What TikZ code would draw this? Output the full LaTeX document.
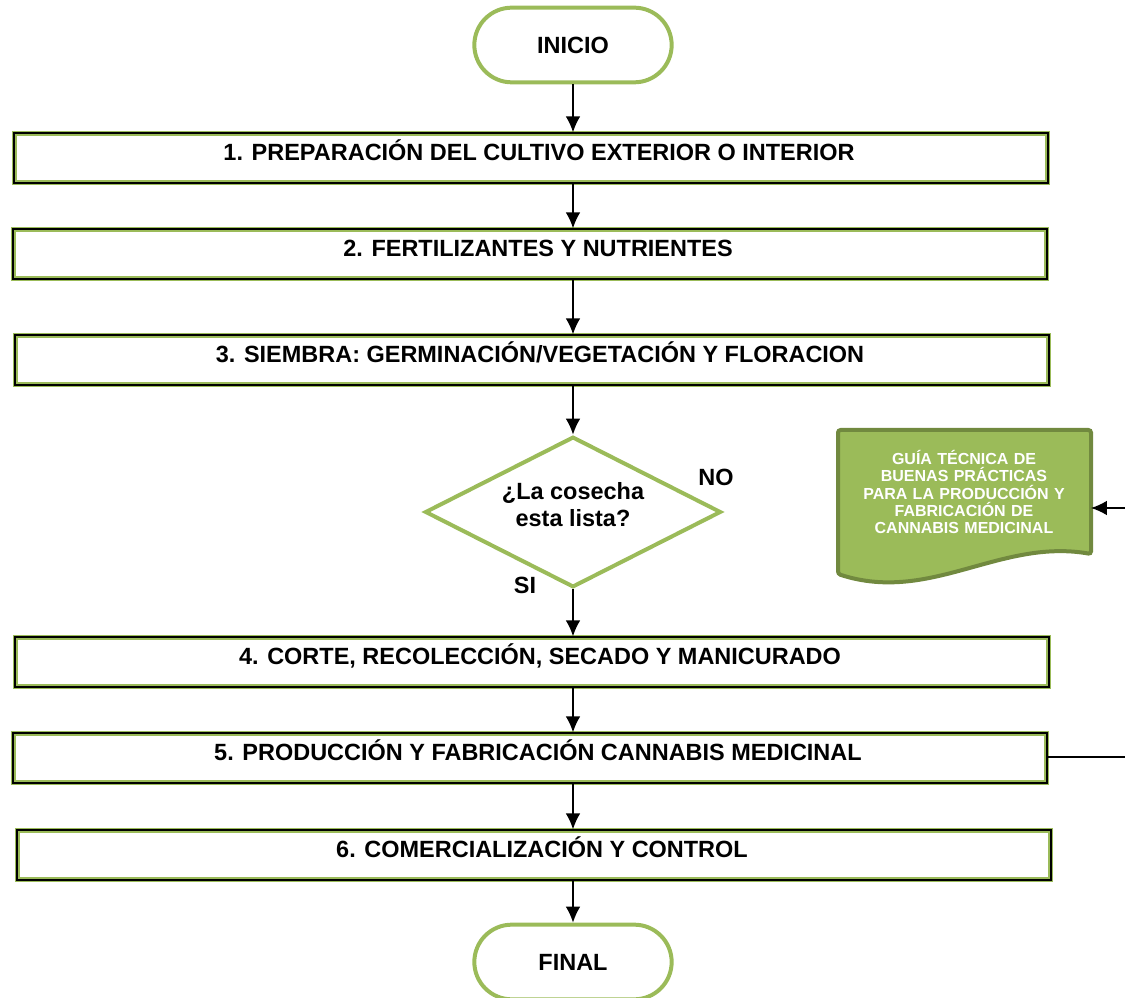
\documentclass[tikz,border=0pt]{standalone}
\usepackage{fontspec}
\setmainfont{Liberation Sans}
\usetikzlibrary{shapes.geometric, arrows.meta, calc, positioning}
\definecolor{verde}{HTML}{9BBB59}
\definecolor{verdeosc}{HTML}{71893F}
\tikzset{
    flecha/.style={-{Latex[length=12pt,width=11pt]}, line width=1.2pt},
    paso/.style={rectangle, draw=black, line width=1.4pt, preaction={draw=verde, line width=3.6pt},
        minimum width=775pt, minimum height=37pt, text height=12pt, text depth=8pt,
        execute at begin node={\hspace*{12pt}},
        font=\bfseries\fontsize{17.6}{20}\selectfont},
    term/.style={rectangle, rounded corners=28pt, draw=verde, line width=3pt,
        minimum width=148pt, minimum height=56pt, font=\bfseries\fontsize{17.6}{20}\selectfont},
    decision/.style={diamond, draw=verde, line width=3pt, shape aspect=2, inner sep=0pt,
        minimum width=222pt, minimum height=113pt, align=center, text depth=12pt,
        font=\bfseries\fontsize{17.6}{20.25}\selectfont},
    guia/.style={text=white, align=center, inner sep=0pt, minimum width=190pt, text width=180pt,
        font=\bfseries\fontsize{12}{13.1}\selectfont},
    rotulo/.style={font=\bfseries\fontsize{17.6}{20}\selectfont}
}
\begin{document}
\begin{tikzpicture}[x=0.75pt, y=-0.75pt]
  \useasboundingbox (0,0) rectangle (1125,998);

  % inicio y pasos
  \node[term] (inicio) at (573,45) {INICIO};
  \node[paso] (p1) at (531,158) {1. PREPARACIÓN DEL CULTIVO EXTERIOR O INTERIOR};
  \node[paso] (p2) at (530,254) {2. FERTILIZANTES Y NUTRIENTES};
  \node[paso] (p3) at (532,360) {3. SIEMBRA: GERMINACIÓN/VEGETACIÓN Y FLORACION};
  \node[decision] (dec) at (573,512) {¿La cosecha\\esta lista?};
  \node[paso] (p4) at (532,662) {4. CORTE, RECOLECCIÓN, SECADO Y MANICURADO};
  \node[paso] (p5) at (530,758) {5. PRODUCCIÓN Y FABRICACIÓN CANNABIS MEDICINAL};
  \node[paso] (p6) at (534,855) {6. COMERCIALIZACIÓN Y CONTROL};
  \node[term] (final) at (573,962) {FINAL};

  \node[rotulo] (no) at (716,477) {NO};
  \node[rotulo] (si) at (525,585) {SI};

  % documento guia
  \fill[verde, draw=verdeosc, line width=3pt, rounded corners=2pt]
    (838,430) -- (1091,430) -- (1091,554)
    .. controls (1000,538) and (930,604) .. (838,574) -- cycle;
  \node[guia] (guia) at (964,492) {GUÍA TÉCNICA DE\\BUENAS PRÁCTICAS\\PARA LA PRODUCCIÓN Y\\FABRICACIÓN DE\\CANNABIS MEDICINAL};

  \coordinate (salida) at (1125,757);
  \coordinate (entrada) at (1125,508);

  % conectores
  \draw[flecha] (inicio.south) -- (inicio.south |- p1.north);
  \draw[flecha] (inicio.south |- p1.south) -- (inicio.south |- p2.north);
  \draw[flecha] (inicio.south |- p2.south) -- (inicio.south |- p3.north);
  \draw[flecha] (inicio.south |- p3.south) -- (dec.north);
  \draw[flecha] (dec.south) -- (dec.south |- p4.north);
  \draw[flecha] (dec.south |- p4.south) -- (dec.south |- p5.north);
  \draw[flecha] (dec.south |- p5.south) -- (dec.south |- p6.north);
  \draw[flecha] (dec.south |- p6.south) -- (final.north);
  \draw[line width=1.2pt] (p5.east |- salida) -- (salida);
  \draw[flecha] (entrada) -- (guia.east |- entrada);
\end{tikzpicture}
\end{document}
